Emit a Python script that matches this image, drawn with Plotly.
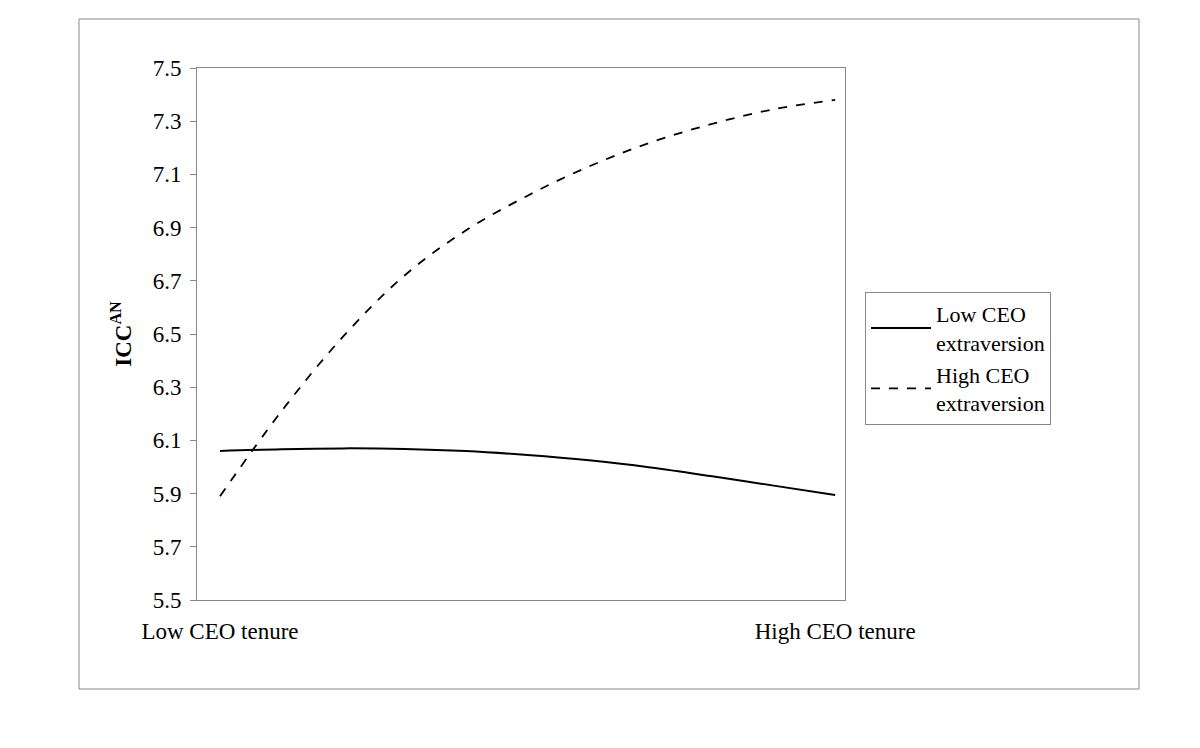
import plotly.graph_objects as go

x = [0, 0.1, 0.2, 0.3, 0.4, 0.5, 0.6, 0.7, 0.8, 0.9, 1.0]
low_ext = [6.06, 6.067, 6.07, 6.068, 6.06, 6.045, 6.025, 5.998, 5.965, 5.93, 5.895]
high_ext = [5.89, 6.21, 6.49, 6.72, 6.89, 7.02, 7.13, 7.22, 7.29, 7.345, 7.38]
xtick_vals = [0, 1]
xtick_text = ["Low CEO tenure", "High CEO tenure"]
yticks = [5.5, 5.7, 5.9, 6.1, 6.3, 6.5, 6.7, 6.9, 7.1, 7.3, 7.5]

F = "Liberation Serif"
L, T, W, H = 189, 60, 648, 532
fig = go.Figure()
fig.add_trace(go.Scatter(x=x, y=low_ext, mode="lines", line=dict(color="black", width=2),
                         name="Low CEO<br>extraversion", line_shape="spline"))
fig.add_trace(go.Scatter(x=x, y=high_ext, mode="lines", line=dict(color="black", width=1.8, dash="dash"),
                         name="High CEO<br>extraversion", line_shape="spline"))
fig.update_layout(
    width=1200, height=748, paper_bgcolor="white", plot_bgcolor="white",
    margin=dict(l=L, r=1200 - L - W, t=T, b=748 - T - H, autoexpand=False),
    font=dict(family=F, size=23, color="black"),
    xaxis=dict(range=[-0.0374, 1.016], tickvals=xtick_vals, ticktext=xtick_text, showgrid=False,
               showline=True, linecolor="#888", mirror=True, ticks="", zeroline=False,
               ticklabelstandoff=10),
    yaxis=dict(range=[5.5, 7.5], tickvals=yticks, tickformat=".1f", showgrid=False,
               showline=True, linecolor="#888", mirror=True, ticks="outside", ticklen=6,
               tickcolor="#888", zeroline=False, ticklabelstandoff=4,
               title=dict(text="<b>ICC<sup>AN</sup></b>", font=dict(size=23), standoff=14)),
    legend=dict(x=(865 - 197) / W, y=1 - (292 - 68) / H, xanchor="left", yanchor="top",
                bordercolor="#888", borderwidth=1, font=dict(size=22), tracegroupgap=30,
                itemwidth=60, entrywidth=230),
    shapes=[dict(type="rect", xref="paper", yref="paper", x0=(79 - 197) / W, x1=(1139 - 197) / W,
                 y0=-(689 - 600) / H, y1=1 + (68 - 19) / H, line=dict(color="#888", width=1))],
)
fig.write_html("out.html")
